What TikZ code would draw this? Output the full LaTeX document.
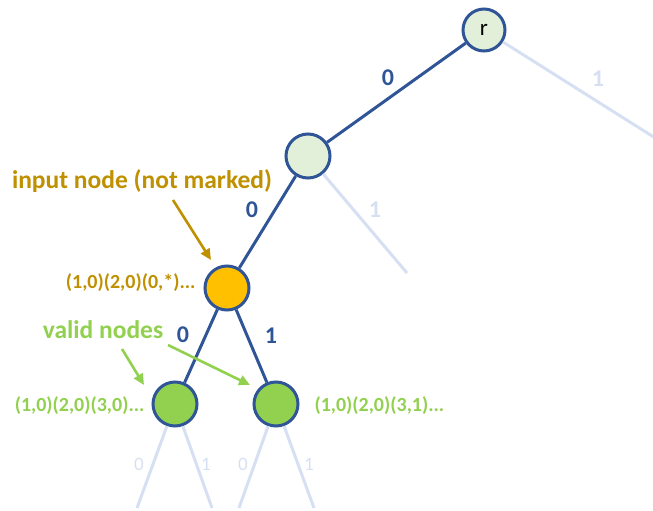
\documentclass[tikz,border=0pt]{standalone}
\usepackage{fontspec}
\setmainfont{Carlito}
\usetikzlibrary{arrows.meta}
\definecolor{edgeblue}{HTML}{2F5597}
\definecolor{faintblue}{HTML}{D6E0F2}
\definecolor{palegreen}{HTML}{E2F0D9}
\definecolor{inputorange}{HTML}{FFC000}
\definecolor{validgreen}{HTML}{92D050}
\definecolor{gold}{HTML}{BF9000}
\tikzset{
  treenode/.style={circle, draw=edgeblue, line width=3pt, minimum size=44pt, inner sep=0pt},
  active/.style={draw=edgeblue, line width=3pt},
  inactive/.style={draw=faintblue, line width=3pt},
  edgelbl/.style={font=\bfseries\fontsize{24}{26}\selectfont, text=edgeblue},
  faintlbl/.style={font=\bfseries\fontsize{24}{26}\selectfont, text=faintblue},
  smallfaint/.style={font=\fontsize{19}{21}\selectfont, text=faintblue},
  pathlbl/.style={font=\bfseries\fontsize{20}{22}\selectfont},
  note/.style={font=\bfseries\fontsize{25.5}{28}\selectfont},
  pointer/.style={line width=2.6pt, -{Triangle[length=11pt,width=10pt]}}
}
\begin{document}
\begin{tikzpicture}[x=1pt,y=-1pt]
\useasboundingbox (0,0) rectangle (653,511);
% tree nodes
\node[treenode, fill=palegreen, minimum size=42pt] (r) at (484,30) {\fontsize{23}{25}\selectfont r};
\node[treenode, fill=palegreen] (a) at (308,156) {};
\node[treenode, fill=inputorange] (in) at (227,288) {};
\node[treenode, fill=validgreen] (v0) at (175,404) {};
\node[treenode, fill=validgreen] (v1) at (276,404) {};
% loose ends of the unexplored branches
\coordinate (r1) at (660,141);
\coordinate (a1) at (407,273);
\coordinate (v00) at (137,508);
\coordinate (v01) at (212,508);
\coordinate (v10) at (239,508);
\coordinate (v11) at (314,508);
% unexplored branches
\draw[inactive] (r) -- (r1);
\draw[inactive] (a) -- (a1);
\draw[inactive] (v0) -- (v00);
\draw[inactive] (v0) -- (v01);
\draw[inactive] (v1) -- (v10);
\draw[inactive] (v1) -- (v11);
% followed branches
\draw[active] (r) -- (a);
\draw[active] (a) -- (in);
\draw[active] (in) -- (v0);
\draw[active] (in) -- (v1);
% edge labels
\node[edgelbl] (l0) at (388,78) {0};
\node[faintlbl] (l1) at (598,79) {1};
\node[edgelbl] (l2) at (252,210) {0};
\node[faintlbl] (l3) at (375,210) {1};
\node[edgelbl] (l4) at (183,335) {0};
\node[edgelbl] (l5) at (271,336) {1};
\node[smallfaint] (l6) at (139,464) {0};
\node[smallfaint] (l7) at (206,464) {1};
\node[smallfaint] (l8) at (243,464) {0};
\node[smallfaint] (l9) at (309,464) {1};
% path labels
\node[pathlbl, text=gold, anchor=east] (pin) at (199,283) {(1,0)(2,0)(0,*)...};
\node[pathlbl, text=validgreen, anchor=east] (pv0) at (148,406) {(1,0)(2,0)(3,0)...};
\node[pathlbl, text=validgreen, anchor=west] (pv1) at (311,406) {(1,0)(2,0)(3,1)...};
% annotations
\node[note, text=gold] (inote) at (142,181) {input node (not marked)};
\node[note, text=validgreen] (vnote) at (103,330) {valid nodes};
\coordinate (i0) at (173,200);
\coordinate (i1) at (211,260);
\coordinate (g0) at (122,349);
\coordinate (g1) at (144,385);
\coordinate (h0) at (168,345);
\coordinate (h1) at (250,385);
\draw[pointer, draw=gold, fill=gold] (i0) -- (i1);
\draw[pointer, draw=validgreen, fill=validgreen] (g0) -- (g1);
\draw[pointer, draw=validgreen, fill=validgreen] (h0) -- (h1);
\end{tikzpicture}
\end{document}
